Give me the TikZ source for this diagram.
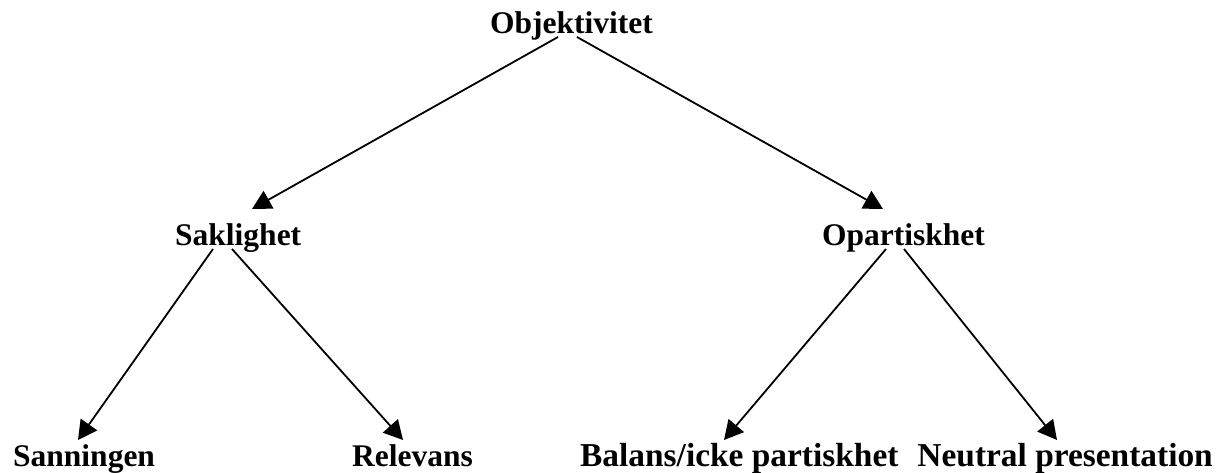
\documentclass[tikz,border=0pt]{standalone}
\usepackage{fontspec}
\setmainfont{Liberation Serif}
\usetikzlibrary{arrows.meta}
\begin{document}
\begin{tikzpicture}[x=1pt,y=1pt,
  lbl/.style={inner sep=0pt,anchor=base west,font=\fontsize{31.5}{36}\selectfont\bfseries},
  lblb/.style={inner sep=0pt,font=\fontsize{33.4}{38}\selectfont\bfseries},
  conn/.style={line width=1.8pt,-{Triangle[length=19pt,width=20pt]}}]
\useasboundingbox (0,0) rectangle (1218,-472);
\node[lbl] (obj) at (490,-33) {Objektivitet};
\node[lbl] (sak) at (175,-245) {Saklighet};
\node[lbl] (opa) at (822,-245) {Opartiskhet};
\node[lbl] (san) at (13,-466) {Sanningen};
\node[lbl] (rel) at (352,-466) {Relevans};
\node[lblb,anchor=base west] (bal) at (580,-466) {Balans/icke partiskhet};
\node[lblb,anchor=base east] (neu) at (1213,-466) {Neutral presentation};
% start and end points of connectors
\coordinate (objL) at (558,-37);
\coordinate (objR) at (577,-37);
\coordinate (sakT) at (252,-209);
\coordinate (opaT) at (883,-209);
\coordinate (sakL) at (213,-249);
\coordinate (sakR) at (232,-249);
\coordinate (opaL) at (886,-249);
\coordinate (opaR) at (904,-249);
\coordinate (sanT) at (78,-440);
\coordinate (relT) at (403,-440);
\coordinate (balT) at (724,-440);
\coordinate (neuT) at (1057,-440);
\draw[conn] (objL) -- (sakT);
\draw[conn] (objR) -- (opaT);
\draw[conn] (sakL) -- (sanT);
\draw[conn] (sakR) -- (relT);
\draw[conn] (opaL) -- (balT);
\draw[conn] (opaR) -- (neuT);
\end{tikzpicture}
\end{document}
